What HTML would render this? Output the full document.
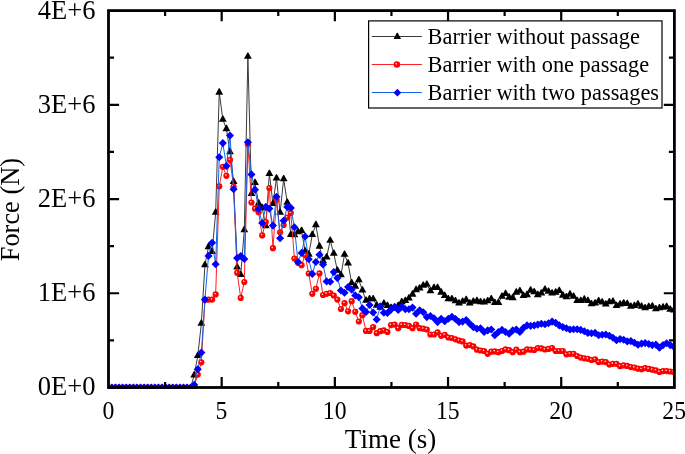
<!DOCTYPE html>
<html><head><meta charset="utf-8"><title>Force vs Time</title>
<style>
html,body{margin:0;padding:0;background:#fff;}
body{width:685px;height:454px;overflow:hidden;font-family:"Liberation Serif",serif;}
svg{display:block;will-change:transform;}
text{font-family:"Liberation Serif",serif;fill:#000;}
</style></head><body>
<svg width="685" height="454" viewBox="0 0 685 454">
<defs>
<radialGradient id="rb" cx="0.40" cy="0.38" r="0.5" fx="0.40" fy="0.38">
<stop offset="0" stop-color="#ffe6e6"/><stop offset="0.16" stop-color="#ffa8a8"/><stop offset="0.38" stop-color="#ff0000"/><stop offset="1" stop-color="#ff0000"/>
</radialGradient>

<clipPath id="cp"><rect x="108.5" y="10.6" width="565.9" height="378.2"/></clipPath>
</defs>
<rect x="0" y="0" width="685" height="454" fill="#ffffff"/>
<g clip-path="url(#cp)">
<polyline points="111.88,387.5 115.46,387.5 119.04,387.5 122.62,387.5 126.2,387.5 129.77,387.5 133.35,387.5 136.93,387.5 140.51,387.5 144.09,387.5 147.67,387.5 151.25,387.5 154.83,387.5 158.41,387.5 161.99,387.5 165.56,387.5 169.14,387.5 172.72,387.5 176.3,387.5 179.88,387.5 183.46,387.5 187.04,387.5 190.62,387.5 194.2,375.2 197.78,355.79999999999995 201.35,323.5 204.93,265.0 208.51,246.9 212.09,251.8 215.67,212.6 219.25,92.4 222.83,119.5 226.41,128.9 229.99,152.0 233.57,181.8 237.15,267.29999999999995 240.72,274.7 244.3,230.0 247.88,56.6 251.46,193.8 255.04,182.70000000000002 258.62,203.4 262.2,207.9 265.78,225.9 269.36,173.70000000000002 272.94,203.70000000000002 276.51,178.20000000000002 280.09,212.6 283.67,179.0 287.25,202.5 290.83,234.8 294.41,234.9 297.99,231.9 301.57,230.70000000000002 305.15,251.20000000000002 308.73,254.4 312.3,234.8 315.88,224.9 319.46,246.4 323.04,260.9 326.62,257.2 330.2,240.6 333.78,253.5 337.36,270.5 340.94,275.09999999999997 344.51,254.6 348.09,263.29999999999995 351.67,283.09999999999997 355.25,286.4 358.83,280.09999999999997 362.41,290.29999999999995 365.99,300.5 369.57,299.09999999999997 373.15,299.09999999999997 376.73,305.4 380.31,307.4 383.88,303.5 387.46,305.7 391.04,307.9 394.62,307.9 398.2,305.7 401.78,302.0 405.36,300.7 408.94,298.2 412.52,294.4 416.1,289.9 419.67,288.29999999999995 423.25,285.5 426.83,284.5 430.41,291.09999999999997 433.99,287.79999999999995 437.57,287.79999999999995 441.15,292.4 444.73,295.7 448.31,299.0 451.88,299.0 455.46,301.09999999999997 459.04,303.2 462.62,301.5 466.2,299.9 469.78,303.2 473.36,301.5 476.94,300.7 480.52,302.0 484.1,302.29999999999995 487.68,301.0 491.25,299.0 494.83,302.7 498.41,302.7 501.99,296.59999999999997 505.57,293.79999999999995 509.15,297.4 512.73,297.9 516.31,292.4 519.89,291.09999999999997 523.47,295.7 527.04,294.9 530.62,290.4 534.2,292.09999999999997 537.78,294.9 541.36,293.29999999999995 544.94,289.5 548.52,291.59999999999997 552.1,293.29999999999995 555.68,292.4 559.25,290.79999999999995 562.83,295.4 566.41,297.09999999999997 569.99,294.4 573.57,296.59999999999997 577.15,300.7 580.73,300.7 584.31,299.4 587.89,300.7 591.47,304.0 595.05,303.2 598.62,301.0 602.2,302.29999999999995 605.78,304.29999999999995 609.36,302.0 612.94,301.5 616.52,305.7 620.1,304.29999999999995 623.68,303.2 627.26,303.7 630.84,306.5 634.41,305.7 637.99,304.29999999999995 641.57,306.5 645.15,308.09999999999997 648.73,306.79999999999995 652.31,306.29999999999995 655.89,309.0 659.47,308.09999999999997 663.05,307.4 666.62,306.79999999999995 670.2,309.59999999999997 673.78,310.29999999999995" fill="none" stroke="#3a3a3a" stroke-width="1.0" stroke-linejoin="round"/>
<g fill="#000000"><path d="M107.98,390.65L115.78,390.65L112.33,384.35L111.43,384.35Z"/><path d="M111.56,390.65L119.36,390.65L115.91,384.35L115.01,384.35Z"/><path d="M115.14,390.65L122.94,390.65L119.49,384.35L118.59,384.35Z"/><path d="M118.72,390.65L126.52,390.65L123.07,384.35L122.17,384.35Z"/><path d="M122.30,390.65L130.10,390.65L126.65,384.35L125.75,384.35Z"/><path d="M125.87,390.65L133.67,390.65L130.22,384.35L129.32,384.35Z"/><path d="M129.45,390.65L137.25,390.65L133.80,384.35L132.90,384.35Z"/><path d="M133.03,390.65L140.83,390.65L137.38,384.35L136.48,384.35Z"/><path d="M136.61,390.65L144.41,390.65L140.96,384.35L140.06,384.35Z"/><path d="M140.19,390.65L147.99,390.65L144.54,384.35L143.64,384.35Z"/><path d="M143.77,390.65L151.57,390.65L148.12,384.35L147.22,384.35Z"/><path d="M147.35,390.65L155.15,390.65L151.70,384.35L150.80,384.35Z"/><path d="M150.93,390.65L158.73,390.65L155.28,384.35L154.38,384.35Z"/><path d="M154.51,390.65L162.31,390.65L158.86,384.35L157.96,384.35Z"/><path d="M158.09,390.65L165.89,390.65L162.44,384.35L161.54,384.35Z"/><path d="M161.66,390.65L169.46,390.65L166.01,384.35L165.11,384.35Z"/><path d="M165.24,390.65L173.04,390.65L169.59,384.35L168.69,384.35Z"/><path d="M168.82,390.65L176.62,390.65L173.17,384.35L172.27,384.35Z"/><path d="M172.40,390.65L180.20,390.65L176.75,384.35L175.85,384.35Z"/><path d="M175.98,390.65L183.78,390.65L180.33,384.35L179.43,384.35Z"/><path d="M179.56,390.65L187.36,390.65L183.91,384.35L183.01,384.35Z"/><path d="M183.14,390.65L190.94,390.65L187.49,384.35L186.59,384.35Z"/><path d="M186.72,390.65L194.52,390.65L191.07,384.35L190.17,384.35Z"/><path d="M190.30,377.45L198.10,377.45L194.65,371.15L193.75,371.15Z"/><path d="M193.88,358.05L201.68,358.05L198.23,351.75L197.33,351.75Z"/><path d="M197.45,325.75L205.25,325.75L201.80,319.45L200.90,319.45Z"/><path d="M201.03,267.25L208.83,267.25L205.38,260.95L204.48,260.95Z"/><path d="M204.61,249.15L212.41,249.15L208.96,242.85L208.06,242.85Z"/><path d="M208.19,254.05L215.99,254.05L212.54,247.75L211.64,247.75Z"/><path d="M211.77,214.85L219.57,214.85L216.12,208.55L215.22,208.55Z"/><path d="M215.35,94.65L223.15,94.65L219.70,88.35L218.80,88.35Z"/><path d="M218.93,121.75L226.73,121.75L223.28,115.45L222.38,115.45Z"/><path d="M222.51,131.15L230.31,131.15L226.86,124.85L225.96,124.85Z"/><path d="M226.09,154.25L233.89,154.25L230.44,147.95L229.54,147.95Z"/><path d="M229.67,184.05L237.47,184.05L234.02,177.75L233.12,177.75Z"/><path d="M233.25,269.55L241.05,269.55L237.60,263.25L236.70,263.25Z"/><path d="M236.82,276.95L244.62,276.95L241.17,270.65L240.27,270.65Z"/><path d="M240.40,232.25L248.20,232.25L244.75,225.95L243.85,225.95Z"/><path d="M243.98,58.85L251.78,58.85L248.33,52.55L247.43,52.55Z"/><path d="M247.56,196.05L255.36,196.05L251.91,189.75L251.01,189.75Z"/><path d="M251.14,184.95L258.94,184.95L255.49,178.65L254.59,178.65Z"/><path d="M254.72,205.65L262.52,205.65L259.07,199.35L258.17,199.35Z"/><path d="M258.30,210.15L266.10,210.15L262.65,203.85L261.75,203.85Z"/><path d="M261.88,228.15L269.68,228.15L266.23,221.85L265.33,221.85Z"/><path d="M265.46,175.95L273.26,175.95L269.81,169.65L268.91,169.65Z"/><path d="M269.04,205.95L276.84,205.95L273.39,199.65L272.49,199.65Z"/><path d="M272.61,180.45L280.41,180.45L276.96,174.15L276.06,174.15Z"/><path d="M276.19,214.85L283.99,214.85L280.54,208.55L279.64,208.55Z"/><path d="M279.77,181.25L287.57,181.25L284.12,174.95L283.22,174.95Z"/><path d="M283.35,204.75L291.15,204.75L287.70,198.45L286.80,198.45Z"/><path d="M286.93,237.05L294.73,237.05L291.28,230.75L290.38,230.75Z"/><path d="M290.51,237.15L298.31,237.15L294.86,230.85L293.96,230.85Z"/><path d="M294.09,234.15L301.89,234.15L298.44,227.85L297.54,227.85Z"/><path d="M297.67,232.95L305.47,232.95L302.02,226.65L301.12,226.65Z"/><path d="M301.25,253.45L309.05,253.45L305.60,247.15L304.70,247.15Z"/><path d="M304.83,256.65L312.63,256.65L309.18,250.35L308.28,250.35Z"/><path d="M308.40,237.05L316.20,237.05L312.75,230.75L311.85,230.75Z"/><path d="M311.98,227.15L319.78,227.15L316.33,220.85L315.43,220.85Z"/><path d="M315.56,248.65L323.36,248.65L319.91,242.35L319.01,242.35Z"/><path d="M319.14,263.15L326.94,263.15L323.49,256.85L322.59,256.85Z"/><path d="M322.72,259.45L330.52,259.45L327.07,253.15L326.17,253.15Z"/><path d="M326.30,242.85L334.10,242.85L330.65,236.55L329.75,236.55Z"/><path d="M329.88,255.75L337.68,255.75L334.23,249.45L333.33,249.45Z"/><path d="M333.46,272.75L341.26,272.75L337.81,266.45L336.91,266.45Z"/><path d="M337.04,277.35L344.84,277.35L341.39,271.05L340.49,271.05Z"/><path d="M340.61,256.85L348.41,256.85L344.96,250.55L344.06,250.55Z"/><path d="M344.19,265.55L351.99,265.55L348.54,259.25L347.64,259.25Z"/><path d="M347.77,285.35L355.57,285.35L352.12,279.05L351.22,279.05Z"/><path d="M351.35,288.65L359.15,288.65L355.70,282.35L354.80,282.35Z"/><path d="M354.93,282.35L362.73,282.35L359.28,276.05L358.38,276.05Z"/><path d="M358.51,292.55L366.31,292.55L362.86,286.25L361.96,286.25Z"/><path d="M362.09,302.75L369.89,302.75L366.44,296.45L365.54,296.45Z"/><path d="M365.67,301.35L373.47,301.35L370.02,295.05L369.12,295.05Z"/><path d="M369.25,301.35L377.05,301.35L373.60,295.05L372.70,295.05Z"/><path d="M372.83,307.65L380.63,307.65L377.18,301.35L376.28,301.35Z"/><path d="M376.41,309.65L384.21,309.65L380.76,303.35L379.86,303.35Z"/><path d="M379.98,305.75L387.78,305.75L384.33,299.45L383.43,299.45Z"/><path d="M383.56,307.95L391.36,307.95L387.91,301.65L387.01,301.65Z"/><path d="M387.14,310.15L394.94,310.15L391.49,303.85L390.59,303.85Z"/><path d="M390.72,310.15L398.52,310.15L395.07,303.85L394.17,303.85Z"/><path d="M394.30,307.95L402.10,307.95L398.65,301.65L397.75,301.65Z"/><path d="M397.88,304.25L405.68,304.25L402.23,297.95L401.33,297.95Z"/><path d="M401.46,302.95L409.26,302.95L405.81,296.65L404.91,296.65Z"/><path d="M405.04,300.45L412.84,300.45L409.39,294.15L408.49,294.15Z"/><path d="M408.62,296.65L416.42,296.65L412.97,290.35L412.07,290.35Z"/><path d="M412.20,292.15L420.00,292.15L416.55,285.85L415.65,285.85Z"/><path d="M415.77,290.55L423.57,290.55L420.12,284.25L419.22,284.25Z"/><path d="M419.35,287.75L427.15,287.75L423.70,281.45L422.80,281.45Z"/><path d="M422.93,286.75L430.73,286.75L427.28,280.45L426.38,280.45Z"/><path d="M426.51,293.35L434.31,293.35L430.86,287.05L429.96,287.05Z"/><path d="M430.09,290.05L437.89,290.05L434.44,283.75L433.54,283.75Z"/><path d="M433.67,290.05L441.47,290.05L438.02,283.75L437.12,283.75Z"/><path d="M437.25,294.65L445.05,294.65L441.60,288.35L440.70,288.35Z"/><path d="M440.83,297.95L448.63,297.95L445.18,291.65L444.28,291.65Z"/><path d="M444.41,301.25L452.21,301.25L448.76,294.95L447.86,294.95Z"/><path d="M447.98,301.25L455.78,301.25L452.33,294.95L451.43,294.95Z"/><path d="M451.56,303.35L459.36,303.35L455.91,297.05L455.01,297.05Z"/><path d="M455.14,305.45L462.94,305.45L459.49,299.15L458.59,299.15Z"/><path d="M458.72,303.75L466.52,303.75L463.07,297.45L462.17,297.45Z"/><path d="M462.30,302.15L470.10,302.15L466.65,295.85L465.75,295.85Z"/><path d="M465.88,305.45L473.68,305.45L470.23,299.15L469.33,299.15Z"/><path d="M469.46,303.75L477.26,303.75L473.81,297.45L472.91,297.45Z"/><path d="M473.04,302.95L480.84,302.95L477.39,296.65L476.49,296.65Z"/><path d="M476.62,304.25L484.42,304.25L480.97,297.95L480.07,297.95Z"/><path d="M480.20,304.55L488.00,304.55L484.55,298.25L483.65,298.25Z"/><path d="M483.78,303.25L491.58,303.25L488.13,296.95L487.23,296.95Z"/><path d="M487.35,301.25L495.15,301.25L491.70,294.95L490.80,294.95Z"/><path d="M490.93,304.95L498.73,304.95L495.28,298.65L494.38,298.65Z"/><path d="M494.51,304.95L502.31,304.95L498.86,298.65L497.96,298.65Z"/><path d="M498.09,298.85L505.89,298.85L502.44,292.55L501.54,292.55Z"/><path d="M501.67,296.05L509.47,296.05L506.02,289.75L505.12,289.75Z"/><path d="M505.25,299.65L513.05,299.65L509.60,293.35L508.70,293.35Z"/><path d="M508.83,300.15L516.63,300.15L513.18,293.85L512.28,293.85Z"/><path d="M512.41,294.65L520.21,294.65L516.76,288.35L515.86,288.35Z"/><path d="M515.99,293.35L523.79,293.35L520.34,287.05L519.44,287.05Z"/><path d="M519.57,297.95L527.37,297.95L523.92,291.65L523.02,291.65Z"/><path d="M523.14,297.15L530.94,297.15L527.49,290.85L526.59,290.85Z"/><path d="M526.72,292.65L534.52,292.65L531.07,286.35L530.17,286.35Z"/><path d="M530.30,294.35L538.10,294.35L534.65,288.05L533.75,288.05Z"/><path d="M533.88,297.15L541.68,297.15L538.23,290.85L537.33,290.85Z"/><path d="M537.46,295.55L545.26,295.55L541.81,289.25L540.91,289.25Z"/><path d="M541.04,291.75L548.84,291.75L545.39,285.45L544.49,285.45Z"/><path d="M544.62,293.85L552.42,293.85L548.97,287.55L548.07,287.55Z"/><path d="M548.20,295.55L556.00,295.55L552.55,289.25L551.65,289.25Z"/><path d="M551.78,294.65L559.58,294.65L556.13,288.35L555.23,288.35Z"/><path d="M555.35,293.05L563.15,293.05L559.70,286.75L558.80,286.75Z"/><path d="M558.93,297.65L566.73,297.65L563.28,291.35L562.38,291.35Z"/><path d="M562.51,299.35L570.31,299.35L566.86,293.05L565.96,293.05Z"/><path d="M566.09,296.65L573.89,296.65L570.44,290.35L569.54,290.35Z"/><path d="M569.67,298.85L577.47,298.85L574.02,292.55L573.12,292.55Z"/><path d="M573.25,302.95L581.05,302.95L577.60,296.65L576.70,296.65Z"/><path d="M576.83,302.95L584.63,302.95L581.18,296.65L580.28,296.65Z"/><path d="M580.41,301.65L588.21,301.65L584.76,295.35L583.86,295.35Z"/><path d="M583.99,302.95L591.79,302.95L588.34,296.65L587.44,296.65Z"/><path d="M587.57,306.25L595.37,306.25L591.92,299.95L591.02,299.95Z"/><path d="M591.15,305.45L598.95,305.45L595.50,299.15L594.60,299.15Z"/><path d="M594.72,303.25L602.52,303.25L599.07,296.95L598.17,296.95Z"/><path d="M598.30,304.55L606.10,304.55L602.65,298.25L601.75,298.25Z"/><path d="M601.88,306.55L609.68,306.55L606.23,300.25L605.33,300.25Z"/><path d="M605.46,304.25L613.26,304.25L609.81,297.95L608.91,297.95Z"/><path d="M609.04,303.75L616.84,303.75L613.39,297.45L612.49,297.45Z"/><path d="M612.62,307.95L620.42,307.95L616.97,301.65L616.07,301.65Z"/><path d="M616.20,306.55L624.00,306.55L620.55,300.25L619.65,300.25Z"/><path d="M619.78,305.45L627.58,305.45L624.13,299.15L623.23,299.15Z"/><path d="M623.36,305.95L631.16,305.95L627.71,299.65L626.81,299.65Z"/><path d="M626.94,308.75L634.74,308.75L631.29,302.45L630.39,302.45Z"/><path d="M630.51,307.95L638.31,307.95L634.86,301.65L633.96,301.65Z"/><path d="M634.09,306.55L641.89,306.55L638.44,300.25L637.54,300.25Z"/><path d="M637.67,308.75L645.47,308.75L642.02,302.45L641.12,302.45Z"/><path d="M641.25,310.35L649.05,310.35L645.60,304.05L644.70,304.05Z"/><path d="M644.83,309.05L652.63,309.05L649.18,302.75L648.28,302.75Z"/><path d="M648.41,308.55L656.21,308.55L652.76,302.25L651.86,302.25Z"/><path d="M651.99,311.25L659.79,311.25L656.34,304.95L655.44,304.95Z"/><path d="M655.57,310.35L663.37,310.35L659.92,304.05L659.02,304.05Z"/><path d="M659.15,309.65L666.95,309.65L663.50,303.35L662.60,303.35Z"/><path d="M662.72,309.05L670.52,309.05L667.07,302.75L666.17,302.75Z"/><path d="M666.30,311.85L674.10,311.85L670.65,305.55L669.75,305.55Z"/><path d="M669.88,312.55L677.68,312.55L674.23,306.25L673.33,306.25Z"/></g>
<polyline points="111.88,387.5 115.46,387.5 119.04,387.5 122.62,387.5 126.2,387.5 129.77,387.5 133.35,387.5 136.93,387.5 140.51,387.5 144.09,387.5 147.67,387.5 151.25,387.5 154.83,387.5 158.41,387.5 161.99,387.5 165.56,387.5 169.14,387.5 172.72,387.5 176.3,387.5 179.88,387.5 183.46,387.5 187.04,387.5 190.62,387.5 194.2,386 197.78,374.6 201.35,362.3 204.93,300 208.51,299.6 212.09,299.6 215.67,294.4 219.25,186.3 222.83,166.8 226.41,175.8 229.99,159.9 233.57,186.5 237.15,272.8 240.72,297.9 244.3,282.0 247.88,144.3 251.46,202.5 255.04,208.7 258.62,212.2 262.2,235.4 265.78,222.0 269.36,188.0 272.94,248.2 276.51,200 280.09,232.3 283.67,225.0 287.25,217.5 290.83,213 294.41,258.5 297.99,262.8 301.57,265.2 305.15,255.2 308.73,273.5 312.3,293.8 315.88,288.8 319.46,273.4 323.04,295 326.62,293.8 330.2,293 333.78,295.5 337.36,299.6 340.94,309 344.51,303.2 348.09,311.3 351.67,301.2 355.25,311.8 358.83,321.5 362.41,315.2 365.99,330.9 369.57,330.9 373.15,327.1 376.73,333.2 380.31,331.2 383.88,330.4 387.46,332.0 391.04,325.1 394.62,324.6 398.2,328.2 401.78,324.9 405.36,325.1 408.94,325.9 412.52,328.2 416.1,324.6 419.67,328.2 423.25,328.7 426.83,329.5 430.41,334.5 433.99,334.5 437.57,332.4 441.15,335.8 444.73,334.8 448.31,337.5 451.88,338.0 455.46,339.3 459.04,340.6 462.62,341.4 466.2,345.6 469.78,345.1 473.36,346.4 476.94,349.7 480.52,350.5 484.1,351.0 487.68,353.8 491.25,351.7 494.83,351.4 498.41,352.2 501.99,351.0 505.57,349.4 509.15,350.2 512.73,352.2 516.31,349.7 519.89,352.2 523.47,351.7 527.04,349.4 530.62,349.7 534.2,350.0 537.78,348.1 541.36,348.4 544.94,349.5 548.52,348.9 552.1,348.1 555.68,351.0 559.25,351.0 562.83,351.0 566.41,354.3 569.99,353.8 573.57,353.8 577.15,356.0 580.73,357.6 584.31,358.3 587.89,358.8 591.47,360.0 595.05,359.3 598.62,362.1 602.2,361.6 605.78,362.1 609.36,364.6 612.94,363.8 616.52,363.8 620.1,366.2 623.68,365.4 627.26,365.9 630.84,367.1 634.41,367.6 637.99,368.7 641.57,369.2 645.15,368.2 648.73,368.9 652.31,369.7 655.89,370.4 659.47,371.9 663.05,371.1 666.62,371.1 670.2,371.5 673.78,371.9" fill="none" stroke="#ff2020" stroke-width="1.0" stroke-linejoin="round"/>
<g fill="url(#rb)" stroke="none"><circle cx="111.88" cy="387.50" r="3.1"/><circle cx="115.46" cy="387.50" r="3.1"/><circle cx="119.04" cy="387.50" r="3.1"/><circle cx="122.62" cy="387.50" r="3.1"/><circle cx="126.20" cy="387.50" r="3.1"/><circle cx="129.77" cy="387.50" r="3.1"/><circle cx="133.35" cy="387.50" r="3.1"/><circle cx="136.93" cy="387.50" r="3.1"/><circle cx="140.51" cy="387.50" r="3.1"/><circle cx="144.09" cy="387.50" r="3.1"/><circle cx="147.67" cy="387.50" r="3.1"/><circle cx="151.25" cy="387.50" r="3.1"/><circle cx="154.83" cy="387.50" r="3.1"/><circle cx="158.41" cy="387.50" r="3.1"/><circle cx="161.99" cy="387.50" r="3.1"/><circle cx="165.56" cy="387.50" r="3.1"/><circle cx="169.14" cy="387.50" r="3.1"/><circle cx="172.72" cy="387.50" r="3.1"/><circle cx="176.30" cy="387.50" r="3.1"/><circle cx="179.88" cy="387.50" r="3.1"/><circle cx="183.46" cy="387.50" r="3.1"/><circle cx="187.04" cy="387.50" r="3.1"/><circle cx="190.62" cy="387.50" r="3.1"/><circle cx="194.20" cy="386.00" r="3.1"/><circle cx="197.78" cy="374.60" r="3.1"/><circle cx="201.35" cy="362.30" r="3.1"/><circle cx="204.93" cy="300.00" r="3.1"/><circle cx="208.51" cy="299.60" r="3.1"/><circle cx="212.09" cy="299.60" r="3.1"/><circle cx="215.67" cy="294.40" r="3.1"/><circle cx="219.25" cy="186.30" r="3.1"/><circle cx="222.83" cy="166.80" r="3.1"/><circle cx="226.41" cy="175.80" r="3.1"/><circle cx="229.99" cy="159.90" r="3.1"/><circle cx="233.57" cy="186.50" r="3.1"/><circle cx="237.15" cy="272.80" r="3.1"/><circle cx="240.72" cy="297.90" r="3.1"/><circle cx="244.30" cy="282.00" r="3.1"/><circle cx="247.88" cy="144.30" r="3.1"/><circle cx="251.46" cy="202.50" r="3.1"/><circle cx="255.04" cy="208.70" r="3.1"/><circle cx="258.62" cy="212.20" r="3.1"/><circle cx="262.20" cy="235.40" r="3.1"/><circle cx="265.78" cy="222.00" r="3.1"/><circle cx="269.36" cy="188.00" r="3.1"/><circle cx="272.94" cy="248.20" r="3.1"/><circle cx="276.51" cy="200.00" r="3.1"/><circle cx="280.09" cy="232.30" r="3.1"/><circle cx="283.67" cy="225.00" r="3.1"/><circle cx="287.25" cy="217.50" r="3.1"/><circle cx="290.83" cy="213.00" r="3.1"/><circle cx="294.41" cy="258.50" r="3.1"/><circle cx="297.99" cy="262.80" r="3.1"/><circle cx="301.57" cy="265.20" r="3.1"/><circle cx="305.15" cy="255.20" r="3.1"/><circle cx="308.73" cy="273.50" r="3.1"/><circle cx="312.30" cy="293.80" r="3.1"/><circle cx="315.88" cy="288.80" r="3.1"/><circle cx="319.46" cy="273.40" r="3.1"/><circle cx="323.04" cy="295.00" r="3.1"/><circle cx="326.62" cy="293.80" r="3.1"/><circle cx="330.20" cy="293.00" r="3.1"/><circle cx="333.78" cy="295.50" r="3.1"/><circle cx="337.36" cy="299.60" r="3.1"/><circle cx="340.94" cy="309.00" r="3.1"/><circle cx="344.51" cy="303.20" r="3.1"/><circle cx="348.09" cy="311.30" r="3.1"/><circle cx="351.67" cy="301.20" r="3.1"/><circle cx="355.25" cy="311.80" r="3.1"/><circle cx="358.83" cy="321.50" r="3.1"/><circle cx="362.41" cy="315.20" r="3.1"/><circle cx="365.99" cy="330.90" r="3.1"/><circle cx="369.57" cy="330.90" r="3.1"/><circle cx="373.15" cy="327.10" r="3.1"/><circle cx="376.73" cy="333.20" r="3.1"/><circle cx="380.31" cy="331.20" r="3.1"/><circle cx="383.88" cy="330.40" r="3.1"/><circle cx="387.46" cy="332.00" r="3.1"/><circle cx="391.04" cy="325.10" r="3.1"/><circle cx="394.62" cy="324.60" r="3.1"/><circle cx="398.20" cy="328.20" r="3.1"/><circle cx="401.78" cy="324.90" r="3.1"/><circle cx="405.36" cy="325.10" r="3.1"/><circle cx="408.94" cy="325.90" r="3.1"/><circle cx="412.52" cy="328.20" r="3.1"/><circle cx="416.10" cy="324.60" r="3.1"/><circle cx="419.67" cy="328.20" r="3.1"/><circle cx="423.25" cy="328.70" r="3.1"/><circle cx="426.83" cy="329.50" r="3.1"/><circle cx="430.41" cy="334.50" r="3.1"/><circle cx="433.99" cy="334.50" r="3.1"/><circle cx="437.57" cy="332.40" r="3.1"/><circle cx="441.15" cy="335.80" r="3.1"/><circle cx="444.73" cy="334.80" r="3.1"/><circle cx="448.31" cy="337.50" r="3.1"/><circle cx="451.88" cy="338.00" r="3.1"/><circle cx="455.46" cy="339.30" r="3.1"/><circle cx="459.04" cy="340.60" r="3.1"/><circle cx="462.62" cy="341.40" r="3.1"/><circle cx="466.20" cy="345.60" r="3.1"/><circle cx="469.78" cy="345.10" r="3.1"/><circle cx="473.36" cy="346.40" r="3.1"/><circle cx="476.94" cy="349.70" r="3.1"/><circle cx="480.52" cy="350.50" r="3.1"/><circle cx="484.10" cy="351.00" r="3.1"/><circle cx="487.68" cy="353.80" r="3.1"/><circle cx="491.25" cy="351.70" r="3.1"/><circle cx="494.83" cy="351.40" r="3.1"/><circle cx="498.41" cy="352.20" r="3.1"/><circle cx="501.99" cy="351.00" r="3.1"/><circle cx="505.57" cy="349.40" r="3.1"/><circle cx="509.15" cy="350.20" r="3.1"/><circle cx="512.73" cy="352.20" r="3.1"/><circle cx="516.31" cy="349.70" r="3.1"/><circle cx="519.89" cy="352.20" r="3.1"/><circle cx="523.47" cy="351.70" r="3.1"/><circle cx="527.04" cy="349.40" r="3.1"/><circle cx="530.62" cy="349.70" r="3.1"/><circle cx="534.20" cy="350.00" r="3.1"/><circle cx="537.78" cy="348.10" r="3.1"/><circle cx="541.36" cy="348.40" r="3.1"/><circle cx="544.94" cy="349.50" r="3.1"/><circle cx="548.52" cy="348.90" r="3.1"/><circle cx="552.10" cy="348.10" r="3.1"/><circle cx="555.68" cy="351.00" r="3.1"/><circle cx="559.25" cy="351.00" r="3.1"/><circle cx="562.83" cy="351.00" r="3.1"/><circle cx="566.41" cy="354.30" r="3.1"/><circle cx="569.99" cy="353.80" r="3.1"/><circle cx="573.57" cy="353.80" r="3.1"/><circle cx="577.15" cy="356.00" r="3.1"/><circle cx="580.73" cy="357.60" r="3.1"/><circle cx="584.31" cy="358.30" r="3.1"/><circle cx="587.89" cy="358.80" r="3.1"/><circle cx="591.47" cy="360.00" r="3.1"/><circle cx="595.05" cy="359.30" r="3.1"/><circle cx="598.62" cy="362.10" r="3.1"/><circle cx="602.20" cy="361.60" r="3.1"/><circle cx="605.78" cy="362.10" r="3.1"/><circle cx="609.36" cy="364.60" r="3.1"/><circle cx="612.94" cy="363.80" r="3.1"/><circle cx="616.52" cy="363.80" r="3.1"/><circle cx="620.10" cy="366.20" r="3.1"/><circle cx="623.68" cy="365.40" r="3.1"/><circle cx="627.26" cy="365.90" r="3.1"/><circle cx="630.84" cy="367.10" r="3.1"/><circle cx="634.41" cy="367.60" r="3.1"/><circle cx="637.99" cy="368.70" r="3.1"/><circle cx="641.57" cy="369.20" r="3.1"/><circle cx="645.15" cy="368.20" r="3.1"/><circle cx="648.73" cy="368.90" r="3.1"/><circle cx="652.31" cy="369.70" r="3.1"/><circle cx="655.89" cy="370.40" r="3.1"/><circle cx="659.47" cy="371.90" r="3.1"/><circle cx="663.05" cy="371.10" r="3.1"/><circle cx="666.62" cy="371.10" r="3.1"/><circle cx="670.20" cy="371.50" r="3.1"/><circle cx="673.78" cy="371.90" r="3.1"/></g>
<polyline points="111.88,387.5 115.46,387.5 119.04,387.5 122.62,387.5 126.2,387.5 129.77,387.5 133.35,387.5 136.93,387.5 140.51,387.5 144.09,387.5 147.67,387.5 151.25,387.5 154.83,387.5 158.41,387.5 161.99,387.5 165.56,387.5 169.14,387.5 172.72,387.5 176.3,387.5 179.88,387.5 183.46,387.5 187.04,387.5 190.62,387.5 194.2,384.8 197.78,369.3 201.35,352.6 204.93,299.6 208.51,255.9 212.09,242.7 215.67,264.2 219.25,157.3 222.83,143.1 226.41,166.1 229.99,135.5 233.57,189.3 237.15,258.1 240.72,256.0 244.3,259.0 247.88,142.3 251.46,174.4 255.04,189.7 258.62,209.0 262.2,223.0 265.78,206.9 269.36,208.6 272.94,225.6 276.51,196.8 280.09,238.3 283.67,220.8 287.25,206.9 290.83,207.9 294.41,227.2 297.99,262.0 301.57,252.9 305.15,236.5 308.73,259.2 312.3,274.0 315.88,262.0 319.46,254.7 323.04,264.5 326.62,281.4 330.2,281.7 333.78,272.1 337.36,278.1 340.94,290.5 344.51,292.8 348.09,287.0 351.67,289.6 355.25,295.4 358.83,297.2 362.41,308.4 365.99,312.0 369.57,305.0 373.15,312.5 376.73,319.5 380.31,306.4 383.88,312.7 387.46,313.0 391.04,309.6 394.62,306.7 398.2,310.0 401.78,306.4 405.36,309.2 408.94,309.2 412.52,307.6 416.1,313.8 419.67,310.2 423.25,312.2 426.83,317.1 430.41,316.0 433.99,318.3 437.57,322.1 441.15,318.8 444.73,321.3 448.31,318.8 451.88,316.7 455.46,319.0 459.04,322.1 462.62,321.6 466.2,320.0 469.78,323.8 473.36,327.1 476.94,328.7 480.52,328.2 484.1,332.0 487.68,330.4 491.25,329.5 494.83,335.3 498.41,332.0 501.99,329.9 505.57,332.0 509.15,333.7 512.73,330.4 516.31,329.5 519.89,332.0 523.47,327.9 527.04,325.4 530.62,325.9 534.2,325.4 537.78,324.6 541.36,323.8 544.94,324.2 548.52,323.3 552.1,321.6 555.68,322.9 559.25,325.4 562.83,327.1 566.41,328.2 569.99,329.5 573.57,329.2 577.15,329.2 580.73,329.9 584.31,331.2 587.89,332.9 591.47,333.2 595.05,332.9 598.62,335.3 602.2,334.8 605.78,334.5 609.36,335.8 612.94,337.8 616.52,340.3 620.1,339.1 623.68,339.8 627.26,341.4 630.84,341.1 634.41,342.8 637.99,344.8 641.57,343.6 645.15,343.1 648.73,344.0 652.31,345.1 655.89,344.6 659.47,347.7 663.05,345.1 666.62,343.3 670.2,345.1 673.78,346.8" fill="none" stroke="#1464e6" stroke-width="1.0" stroke-linejoin="round"/>
<g fill="#0000ff"><path d="M107.83,387.50L111.88,383.45L115.93,387.50L111.88,391.55Z"/><path d="M111.41,387.50L115.46,383.45L119.51,387.50L115.46,391.55Z"/><path d="M114.99,387.50L119.04,383.45L123.09,387.50L119.04,391.55Z"/><path d="M118.57,387.50L122.62,383.45L126.67,387.50L122.62,391.55Z"/><path d="M122.15,387.50L126.20,383.45L130.25,387.50L126.20,391.55Z"/><path d="M125.72,387.50L129.77,383.45L133.82,387.50L129.77,391.55Z"/><path d="M129.30,387.50L133.35,383.45L137.40,387.50L133.35,391.55Z"/><path d="M132.88,387.50L136.93,383.45L140.98,387.50L136.93,391.55Z"/><path d="M136.46,387.50L140.51,383.45L144.56,387.50L140.51,391.55Z"/><path d="M140.04,387.50L144.09,383.45L148.14,387.50L144.09,391.55Z"/><path d="M143.62,387.50L147.67,383.45L151.72,387.50L147.67,391.55Z"/><path d="M147.20,387.50L151.25,383.45L155.30,387.50L151.25,391.55Z"/><path d="M150.78,387.50L154.83,383.45L158.88,387.50L154.83,391.55Z"/><path d="M154.36,387.50L158.41,383.45L162.46,387.50L158.41,391.55Z"/><path d="M157.94,387.50L161.99,383.45L166.04,387.50L161.99,391.55Z"/><path d="M161.51,387.50L165.56,383.45L169.61,387.50L165.56,391.55Z"/><path d="M165.09,387.50L169.14,383.45L173.19,387.50L169.14,391.55Z"/><path d="M168.67,387.50L172.72,383.45L176.77,387.50L172.72,391.55Z"/><path d="M172.25,387.50L176.30,383.45L180.35,387.50L176.30,391.55Z"/><path d="M175.83,387.50L179.88,383.45L183.93,387.50L179.88,391.55Z"/><path d="M179.41,387.50L183.46,383.45L187.51,387.50L183.46,391.55Z"/><path d="M182.99,387.50L187.04,383.45L191.09,387.50L187.04,391.55Z"/><path d="M186.57,387.50L190.62,383.45L194.67,387.50L190.62,391.55Z"/><path d="M190.15,384.80L194.20,380.75L198.25,384.80L194.20,388.85Z"/><path d="M193.73,369.30L197.78,365.25L201.83,369.30L197.78,373.35Z"/><path d="M197.30,352.60L201.35,348.55L205.40,352.60L201.35,356.65Z"/><path d="M200.88,299.60L204.93,295.55L208.98,299.60L204.93,303.65Z"/><path d="M204.46,255.90L208.51,251.85L212.56,255.90L208.51,259.95Z"/><path d="M208.04,242.70L212.09,238.65L216.14,242.70L212.09,246.75Z"/><path d="M211.62,264.20L215.67,260.15L219.72,264.20L215.67,268.25Z"/><path d="M215.20,157.30L219.25,153.25L223.30,157.30L219.25,161.35Z"/><path d="M218.78,143.10L222.83,139.05L226.88,143.10L222.83,147.15Z"/><path d="M222.36,166.10L226.41,162.05L230.46,166.10L226.41,170.15Z"/><path d="M225.94,135.50L229.99,131.45L234.04,135.50L229.99,139.55Z"/><path d="M229.52,189.30L233.57,185.25L237.62,189.30L233.57,193.35Z"/><path d="M233.10,258.10L237.15,254.05L241.20,258.10L237.15,262.15Z"/><path d="M236.67,256.00L240.72,251.95L244.77,256.00L240.72,260.05Z"/><path d="M240.25,259.00L244.30,254.95L248.35,259.00L244.30,263.05Z"/><path d="M243.83,142.30L247.88,138.25L251.93,142.30L247.88,146.35Z"/><path d="M247.41,174.40L251.46,170.35L255.51,174.40L251.46,178.45Z"/><path d="M250.99,189.70L255.04,185.65L259.09,189.70L255.04,193.75Z"/><path d="M254.57,209.00L258.62,204.95L262.67,209.00L258.62,213.05Z"/><path d="M258.15,223.00L262.20,218.95L266.25,223.00L262.20,227.05Z"/><path d="M261.73,206.90L265.78,202.85L269.83,206.90L265.78,210.95Z"/><path d="M265.31,208.60L269.36,204.55L273.41,208.60L269.36,212.65Z"/><path d="M268.89,225.60L272.94,221.55L276.99,225.60L272.94,229.65Z"/><path d="M272.46,196.80L276.51,192.75L280.56,196.80L276.51,200.85Z"/><path d="M276.04,238.30L280.09,234.25L284.14,238.30L280.09,242.35Z"/><path d="M279.62,220.80L283.67,216.75L287.72,220.80L283.67,224.85Z"/><path d="M283.20,206.90L287.25,202.85L291.30,206.90L287.25,210.95Z"/><path d="M286.78,207.90L290.83,203.85L294.88,207.90L290.83,211.95Z"/><path d="M290.36,227.20L294.41,223.15L298.46,227.20L294.41,231.25Z"/><path d="M293.94,262.00L297.99,257.95L302.04,262.00L297.99,266.05Z"/><path d="M297.52,252.90L301.57,248.85L305.62,252.90L301.57,256.95Z"/><path d="M301.10,236.50L305.15,232.45L309.20,236.50L305.15,240.55Z"/><path d="M304.68,259.20L308.73,255.15L312.78,259.20L308.73,263.25Z"/><path d="M308.25,274.00L312.30,269.95L316.35,274.00L312.30,278.05Z"/><path d="M311.83,262.00L315.88,257.95L319.93,262.00L315.88,266.05Z"/><path d="M315.41,254.70L319.46,250.65L323.51,254.70L319.46,258.75Z"/><path d="M318.99,264.50L323.04,260.45L327.09,264.50L323.04,268.55Z"/><path d="M322.57,281.40L326.62,277.35L330.67,281.40L326.62,285.45Z"/><path d="M326.15,281.70L330.20,277.65L334.25,281.70L330.20,285.75Z"/><path d="M329.73,272.10L333.78,268.05L337.83,272.10L333.78,276.15Z"/><path d="M333.31,278.10L337.36,274.05L341.41,278.10L337.36,282.15Z"/><path d="M336.89,290.50L340.94,286.45L344.99,290.50L340.94,294.55Z"/><path d="M340.46,292.80L344.51,288.75L348.56,292.80L344.51,296.85Z"/><path d="M344.04,287.00L348.09,282.95L352.14,287.00L348.09,291.05Z"/><path d="M347.62,289.60L351.67,285.55L355.72,289.60L351.67,293.65Z"/><path d="M351.20,295.40L355.25,291.35L359.30,295.40L355.25,299.45Z"/><path d="M354.78,297.20L358.83,293.15L362.88,297.20L358.83,301.25Z"/><path d="M358.36,308.40L362.41,304.35L366.46,308.40L362.41,312.45Z"/><path d="M361.94,312.00L365.99,307.95L370.04,312.00L365.99,316.05Z"/><path d="M365.52,305.00L369.57,300.95L373.62,305.00L369.57,309.05Z"/><path d="M369.10,312.50L373.15,308.45L377.20,312.50L373.15,316.55Z"/><path d="M372.68,319.50L376.73,315.45L380.78,319.50L376.73,323.55Z"/><path d="M376.26,306.40L380.31,302.35L384.36,306.40L380.31,310.45Z"/><path d="M379.83,312.70L383.88,308.65L387.93,312.70L383.88,316.75Z"/><path d="M383.41,313.00L387.46,308.95L391.51,313.00L387.46,317.05Z"/><path d="M386.99,309.60L391.04,305.55L395.09,309.60L391.04,313.65Z"/><path d="M390.57,306.70L394.62,302.65L398.67,306.70L394.62,310.75Z"/><path d="M394.15,310.00L398.20,305.95L402.25,310.00L398.20,314.05Z"/><path d="M397.73,306.40L401.78,302.35L405.83,306.40L401.78,310.45Z"/><path d="M401.31,309.20L405.36,305.15L409.41,309.20L405.36,313.25Z"/><path d="M404.89,309.20L408.94,305.15L412.99,309.20L408.94,313.25Z"/><path d="M408.47,307.60L412.52,303.55L416.57,307.60L412.52,311.65Z"/><path d="M412.05,313.80L416.10,309.75L420.15,313.80L416.10,317.85Z"/><path d="M415.62,310.20L419.67,306.15L423.72,310.20L419.67,314.25Z"/><path d="M419.20,312.20L423.25,308.15L427.30,312.20L423.25,316.25Z"/><path d="M422.78,317.10L426.83,313.05L430.88,317.10L426.83,321.15Z"/><path d="M426.36,316.00L430.41,311.95L434.46,316.00L430.41,320.05Z"/><path d="M429.94,318.30L433.99,314.25L438.04,318.30L433.99,322.35Z"/><path d="M433.52,322.10L437.57,318.05L441.62,322.10L437.57,326.15Z"/><path d="M437.10,318.80L441.15,314.75L445.20,318.80L441.15,322.85Z"/><path d="M440.68,321.30L444.73,317.25L448.78,321.30L444.73,325.35Z"/><path d="M444.26,318.80L448.31,314.75L452.36,318.80L448.31,322.85Z"/><path d="M447.83,316.70L451.88,312.65L455.93,316.70L451.88,320.75Z"/><path d="M451.41,319.00L455.46,314.95L459.51,319.00L455.46,323.05Z"/><path d="M454.99,322.10L459.04,318.05L463.09,322.10L459.04,326.15Z"/><path d="M458.57,321.60L462.62,317.55L466.67,321.60L462.62,325.65Z"/><path d="M462.15,320.00L466.20,315.95L470.25,320.00L466.20,324.05Z"/><path d="M465.73,323.80L469.78,319.75L473.83,323.80L469.78,327.85Z"/><path d="M469.31,327.10L473.36,323.05L477.41,327.10L473.36,331.15Z"/><path d="M472.89,328.70L476.94,324.65L480.99,328.70L476.94,332.75Z"/><path d="M476.47,328.20L480.52,324.15L484.57,328.20L480.52,332.25Z"/><path d="M480.05,332.00L484.10,327.95L488.15,332.00L484.10,336.05Z"/><path d="M483.63,330.40L487.68,326.35L491.73,330.40L487.68,334.45Z"/><path d="M487.20,329.50L491.25,325.45L495.30,329.50L491.25,333.55Z"/><path d="M490.78,335.30L494.83,331.25L498.88,335.30L494.83,339.35Z"/><path d="M494.36,332.00L498.41,327.95L502.46,332.00L498.41,336.05Z"/><path d="M497.94,329.90L501.99,325.85L506.04,329.90L501.99,333.95Z"/><path d="M501.52,332.00L505.57,327.95L509.62,332.00L505.57,336.05Z"/><path d="M505.10,333.70L509.15,329.65L513.20,333.70L509.15,337.75Z"/><path d="M508.68,330.40L512.73,326.35L516.78,330.40L512.73,334.45Z"/><path d="M512.26,329.50L516.31,325.45L520.36,329.50L516.31,333.55Z"/><path d="M515.84,332.00L519.89,327.95L523.94,332.00L519.89,336.05Z"/><path d="M519.42,327.90L523.47,323.85L527.52,327.90L523.47,331.95Z"/><path d="M522.99,325.40L527.04,321.35L531.09,325.40L527.04,329.45Z"/><path d="M526.57,325.90L530.62,321.85L534.67,325.90L530.62,329.95Z"/><path d="M530.15,325.40L534.20,321.35L538.25,325.40L534.20,329.45Z"/><path d="M533.73,324.60L537.78,320.55L541.83,324.60L537.78,328.65Z"/><path d="M537.31,323.80L541.36,319.75L545.41,323.80L541.36,327.85Z"/><path d="M540.89,324.20L544.94,320.15L548.99,324.20L544.94,328.25Z"/><path d="M544.47,323.30L548.52,319.25L552.57,323.30L548.52,327.35Z"/><path d="M548.05,321.60L552.10,317.55L556.15,321.60L552.10,325.65Z"/><path d="M551.63,322.90L555.68,318.85L559.73,322.90L555.68,326.95Z"/><path d="M555.20,325.40L559.25,321.35L563.30,325.40L559.25,329.45Z"/><path d="M558.78,327.10L562.83,323.05L566.88,327.10L562.83,331.15Z"/><path d="M562.36,328.20L566.41,324.15L570.46,328.20L566.41,332.25Z"/><path d="M565.94,329.50L569.99,325.45L574.04,329.50L569.99,333.55Z"/><path d="M569.52,329.20L573.57,325.15L577.62,329.20L573.57,333.25Z"/><path d="M573.10,329.20L577.15,325.15L581.20,329.20L577.15,333.25Z"/><path d="M576.68,329.90L580.73,325.85L584.78,329.90L580.73,333.95Z"/><path d="M580.26,331.20L584.31,327.15L588.36,331.20L584.31,335.25Z"/><path d="M583.84,332.90L587.89,328.85L591.94,332.90L587.89,336.95Z"/><path d="M587.42,333.20L591.47,329.15L595.52,333.20L591.47,337.25Z"/><path d="M591.00,332.90L595.05,328.85L599.10,332.90L595.05,336.95Z"/><path d="M594.57,335.30L598.62,331.25L602.67,335.30L598.62,339.35Z"/><path d="M598.15,334.80L602.20,330.75L606.25,334.80L602.20,338.85Z"/><path d="M601.73,334.50L605.78,330.45L609.83,334.50L605.78,338.55Z"/><path d="M605.31,335.80L609.36,331.75L613.41,335.80L609.36,339.85Z"/><path d="M608.89,337.80L612.94,333.75L616.99,337.80L612.94,341.85Z"/><path d="M612.47,340.30L616.52,336.25L620.57,340.30L616.52,344.35Z"/><path d="M616.05,339.10L620.10,335.05L624.15,339.10L620.10,343.15Z"/><path d="M619.63,339.80L623.68,335.75L627.73,339.80L623.68,343.85Z"/><path d="M623.21,341.40L627.26,337.35L631.31,341.40L627.26,345.45Z"/><path d="M626.79,341.10L630.84,337.05L634.89,341.10L630.84,345.15Z"/><path d="M630.36,342.80L634.41,338.75L638.46,342.80L634.41,346.85Z"/><path d="M633.94,344.80L637.99,340.75L642.04,344.80L637.99,348.85Z"/><path d="M637.52,343.60L641.57,339.55L645.62,343.60L641.57,347.65Z"/><path d="M641.10,343.10L645.15,339.05L649.20,343.10L645.15,347.15Z"/><path d="M644.68,344.00L648.73,339.95L652.78,344.00L648.73,348.05Z"/><path d="M648.26,345.10L652.31,341.05L656.36,345.10L652.31,349.15Z"/><path d="M651.84,344.60L655.89,340.55L659.94,344.60L655.89,348.65Z"/><path d="M655.42,347.70L659.47,343.65L663.52,347.70L659.47,351.75Z"/><path d="M659.00,345.10L663.05,341.05L667.10,345.10L663.05,349.15Z"/><path d="M662.57,343.30L666.62,339.25L670.67,343.30L666.62,347.35Z"/><path d="M666.15,345.10L670.20,341.05L674.25,345.10L670.20,349.15Z"/><path d="M669.73,346.80L673.78,342.75L677.83,346.80L673.78,350.85Z"/></g>
</g>
<rect x="108.5" y="10.6" width="565.9" height="376.9" fill="none" stroke="#000" stroke-width="2.8"/>
<path d="M165.09,387.5V382.0M165.09,10.6V16.1M221.68,387.5V376.9M221.68,10.6V21.2M278.27,387.5V382.0M278.27,10.6V16.1M334.86,387.5V376.9M334.86,10.6V21.2M391.45,387.5V382.0M391.45,10.6V16.1M448.04,387.5V376.9M448.04,10.6V21.2M504.63,387.5V382.0M504.63,10.6V16.1M561.22,387.5V376.9M561.22,10.6V21.2M617.81,387.5V382.0M617.81,10.6V16.1M108.5,340.39H114.0M674.4,340.39H668.9M108.5,293.27H119.1M674.4,293.27H663.8M108.5,246.16H114.0M674.4,246.16H668.9M108.5,199.05H119.1M674.4,199.05H663.8M108.5,151.94H114.0M674.4,151.94H668.9M108.5,104.83H119.1M674.4,104.83H663.8M108.5,57.71H114.0M674.4,57.71H668.9" stroke="#000" stroke-width="2.2" fill="none"/>
<text transform="translate(108.30,419.2) scale(0.94,1)" font-size="25.2" text-anchor="middle">0</text>
<text transform="translate(221.48,419.2) scale(0.94,1)" font-size="25.2" text-anchor="middle">5</text>
<text transform="translate(334.66,419.2) scale(0.94,1)" font-size="25.2" text-anchor="middle">10</text>
<text transform="translate(447.84,419.2) scale(0.94,1)" font-size="25.2" text-anchor="middle">15</text>
<text transform="translate(561.02,419.2) scale(0.94,1)" font-size="25.2" text-anchor="middle">20</text>
<text transform="translate(674.20,419.2) scale(0.94,1)" font-size="25.2" text-anchor="middle">25</text>
<text x="95.5" y="395.40" font-size="26.5" text-anchor="end">0E+0</text>
<text x="95.5" y="301.17" font-size="26.5" text-anchor="end">1E+6</text>
<text x="95.5" y="206.95" font-size="26.5" text-anchor="end">2E+6</text>
<text x="95.5" y="112.73" font-size="26.5" text-anchor="end">3E+6</text>
<text x="95.5" y="18.50" font-size="26.5" text-anchor="end">4E+6</text>
<text x="390.5" y="448.2" font-size="27" text-anchor="middle">Time (s)</text>
<text transform="translate(18.7,209.6) rotate(-90)" font-size="26.4" text-anchor="middle">Force (N)</text>
<rect x="368.6" y="20.9" width="293.4" height="87.1" fill="#fff" stroke="#000" stroke-width="1.2"/>
<path d="M371.7,36.5H421.9" stroke="#3a3a3a" stroke-width="1.15"/>
<g fill="#000"><path d="M393.55,39.00L401.05,39.00L397.75,32.80L396.85,32.80Z"/></g>
<text x="427.6" y="43.8" font-size="22.35">Barrier without passage</text>
<path d="M371.7,64.5H421.9" stroke="#ff2020" stroke-width="1.15"/>
<g fill="url(#rb)" stroke="none"><circle cx="396.90" cy="64.50" r="3.25"/></g>
<text x="427.6" y="72.0" font-size="22.35">Barrier with one passage</text>
<path d="M371.7,92.5H421.9" stroke="#1464e6" stroke-width="1.15"/>
<g fill="#0000ff"><path d="M393.60,92.65L397.40,88.85L401.20,92.65L397.40,96.45Z"/></g>
<text x="427.6" y="100.0" font-size="22.35">Barrier with two passages</text>
</svg></body></html>
